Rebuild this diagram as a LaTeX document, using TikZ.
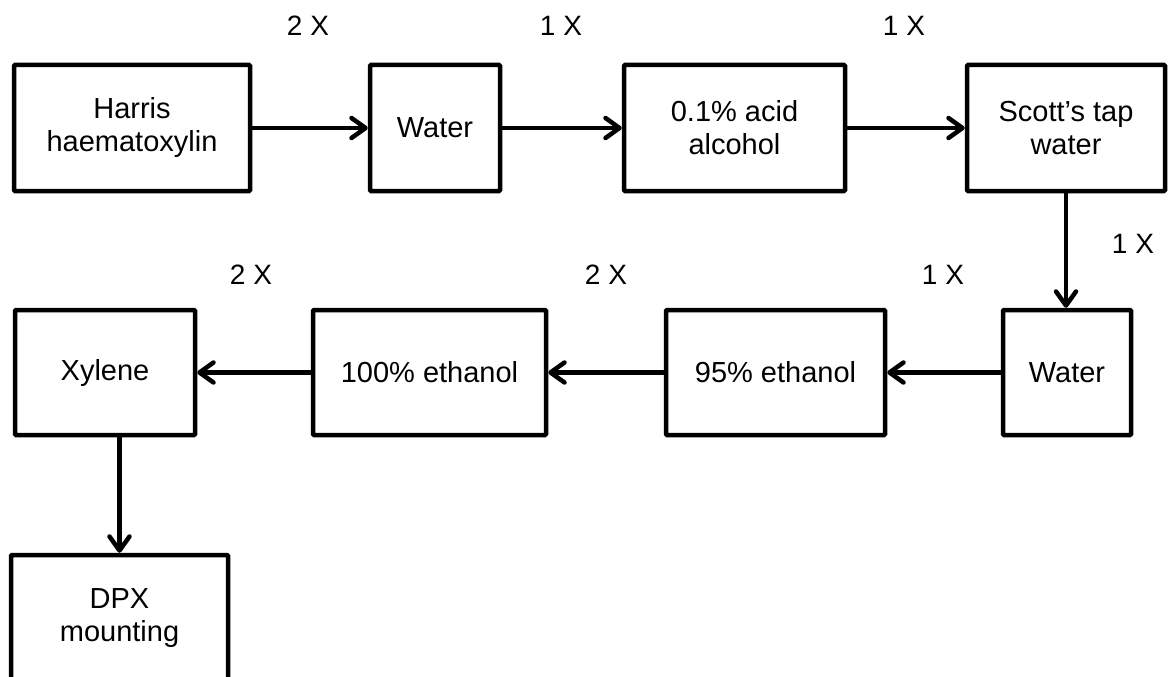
\documentclass[tikz,border=0pt]{standalone}
\usepackage{fontspec}
\setmainfont{Liberation Sans}
\usetikzlibrary{arrows.meta}
\begin{document}
\begin{tikzpicture}[x=1pt,y=-1pt,
  stepbox/.style={draw=black, line width=4.5pt, rounded corners=1pt, align=center,
    font=\fontsize{29}{33}\selectfont, inner sep=0pt},
  flow/.style={line width=4.5pt, -{Straight Barb[length=14pt,width=20pt,round]}},
  count/.style={font=\fontsize{28}{33}\selectfont, inner sep=0pt}]
\useasboundingbox (0,0) rectangle (1173,677);
% row 1
\node[stepbox, minimum width=236pt, minimum height=126pt] (B1) at (132,128) {Harris\\haematoxylin};
\node[stepbox, minimum width=130pt, minimum height=126pt] (B2) at (435,128) {Water};
\node[stepbox, minimum width=221pt, minimum height=126pt] (B3) at (734.5,128) {0.1\% acid\\alcohol};
\node[stepbox, minimum width=198pt, minimum height=126pt] (B4) at (1066,128) {Scott’s tap\\water};
% row 2
\node[stepbox, minimum width=128pt, minimum height=125pt] (B5) at (1067,372.5) {Water};
\node[stepbox, minimum width=219pt, minimum height=125pt] (B6) at (775.5,372.5) {95\% ethanol};
\node[stepbox, minimum width=233pt, minimum height=125pt] (B7) at (429.5,372.5) {100\% ethanol};
\node[stepbox, minimum width=180pt, minimum height=125pt] (B8) at (105,372.5) {Xylene};
% row 3
\node[stepbox, minimum width=217pt, minimum height=126pt] (B9) at (119.5,618) {DPX\\mounting};
% connectors
\draw[flow] (B1) -- (B2);
\draw[flow] (B2) -- (B3);
\draw[flow] (B3) -- (B4);
\draw[flow] (B4.south) -- (B4.south |- B5.north);
\draw[flow] (B5) -- (B6);
\draw[flow] (B6) -- (B7);
\draw[flow] (B7) -- (B8);
\draw[flow] (B9.north |- B8.south) -- (B9.north);
% counts
\node[count] (c1) at (308,26) {2 X};
\node[count] (c2) at (561,26) {1 X};
\node[count] (c3) at (904,26) {1 X};
\node[count] (c4) at (1133,244) {1 X};
\node[count] (c5) at (943,275) {1 X};
\node[count] (c6) at (606,275) {2 X};
\node[count] (c7) at (251,275) {2 X};
\end{tikzpicture}
\end{document}
